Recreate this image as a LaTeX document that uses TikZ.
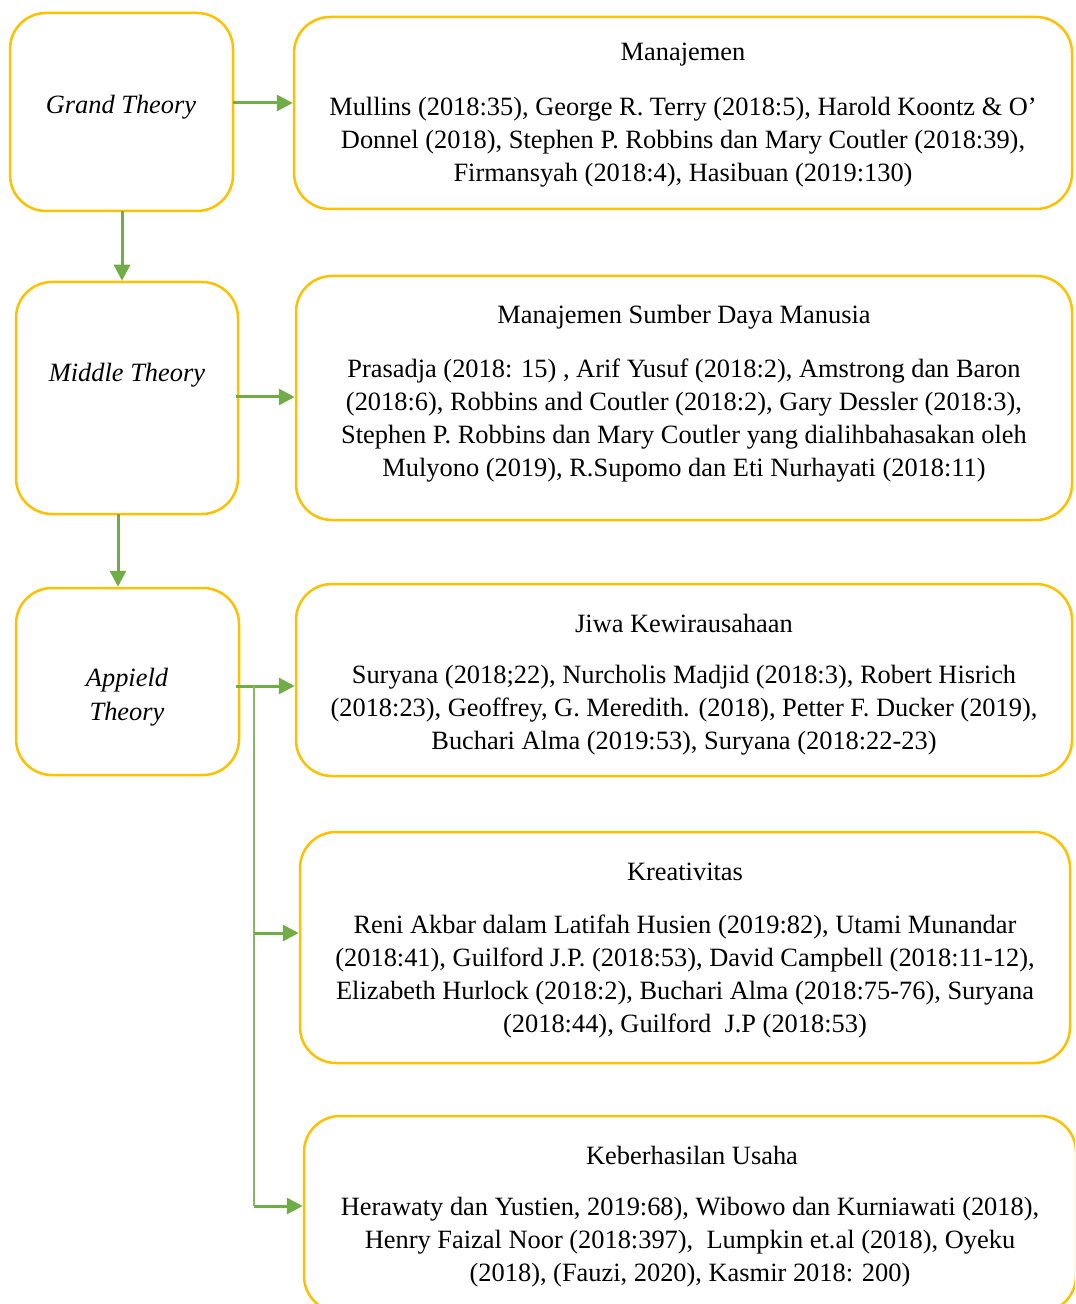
\documentclass[tikz,border=0pt]{standalone}
\usepackage{fontspec}
\setmainfont{Liberation Serif}
\usepackage{tikz}
\usetikzlibrary{arrows.meta,calc}
\definecolor{boxyellow}{RGB}{255,192,0}
\definecolor{arrgreen}{RGB}{112,173,71}
\tikzset{
  box/.style 2 args={draw=boxyellow,line width=1.25pt,rounded corners=18pt,minimum width=#1*0.5pt,minimum height=#2*0.5pt,inner sep=0pt},
  txt/.style={inner sep=0pt,align=center,yshift=-1.5pt,font=\fontsize{13.2}{16.5}\selectfont},
  arr/.style={draw=arrgreen,line width=1.5pt,-{Triangle[length=8pt,width=8pt]}},
  thinline/.style={draw=arrgreen!85,line width=0.8pt}
}

\begin{document}
\begin{tikzpicture}[x=0.5pt,y=-0.5pt]
\clip(0,0)rectangle(1075,1304);
% left column
\node[box={223}{198}](gt)at(121.5,112){};
\node[box={222}{232}](mid)at(127,398){};
\node[box={223}{187}](app)at(127.5,681.5){};
\node[txt,font=\fontsize{13.2}{16.5}\selectfont\itshape](gtT)at(121,104){Grand Theory};
\node[txt,font=\fontsize{13.2}{16.5}\selectfont\itshape](midT)at(127,372){Middle Theory};
\node[txt,font=\fontsize{13.2}{17}\selectfont\itshape](appT)at(127,694){Appield\\Theory};
% right column
\node[box={778}{192}](man)at(683,113){};
\node[box={776}{244}](msdm)at(684,398){};
\node[box={776}{192}](jiwa)at(684,680){};
\node[box={770}{231}](kre)at(685,947.5){};
\node[box={772}{196}](keb)at(690,1214){};
\node[txt](manT)at(683,52){Manajemen};
\node[txt](manP)at(683,139){Mullins (2018:35), George R. Terry (2018:5), Harold Koontz \& O’\\Donnel (2018), Stephen P. Robbins dan Mary Coutler (2018:39),\\Firmansyah (2018:4), Hasibuan (2019:130)};
\node[txt](msdmT)at(684,314){Manajemen Sumber Daya Manusia};
\node[txt](msdmP)at(684,417.5){Prasadja (2018: 15) , Arif Yusuf (2018:2), Amstrong dan Baron\\(2018:6), Robbins and Coutler (2018:2), Gary Dessler (2018:3),\\Stephen P. Robbins dan Mary Coutler yang dialihbahasakan oleh\\Mulyono (2019), R.Supomo dan Eti Nurhayati (2018:11)};
\node[txt](jiwaT)at(684,620){Jiwa Kewirausahaan};
\node[txt](jiwaP)at(684,707){Suryana (2018;22), Nurcholis Madjid (2018:3), Robert Hisrich\\(2018:23), Geoffrey, G. Meredith. (2018), Petter F. Ducker (2019),\\Buchari Alma (2019:53), Suryana (2018:22-23)};
\node[txt](kreT)at(685,869){Kreativitas};
\node[txt](kreP)at(685,973.5){Reni Akbar dalam Latifah Husien (2019:82), Utami Munandar\\(2018:41), Guilford J.P. (2018:53), David Campbell (2018:11-12),\\Elizabeth Hurlock (2018:2), Buchari Alma (2018:75-76), Suryana\\(2018:44), Guilford\ \ J.P (2018:53)};
\node[txt](kebT)at(692,1152){Keberhasilan Usaha};
\node[txt](kebP)at(690,1239){Herawaty dan Yustien, 2019:68), Wibowo dan Kurniawati (2018),\\Henry Faizal Noor (2018:397),\ \ Lumpkin et.al (2018), Oyeku\\(2018), (Fauzi, 2020), Kasmir 2018: 200)};
% connectors
\coordinate(gtR)at(233,103);\coordinate(midR)at(236,397);\coordinate(appR)at(236,686);
\coordinate(gtB)at(122,211);\coordinate(midB)at(118,514);
\coordinate(split)at(254,686);\coordinate(kreL)at(254,933);\coordinate(kebL)at(254,1206);
\draw[arr](gtR)--(gtR-|man.west);
\draw[arr](midR)--(midR-|msdm.west);
\draw[arr](appR)--(appR-|jiwa.west);
\draw[arr](gtB)--(gtB|-mid.north);
\draw[arr](midB)--(midB|-app.north);
\draw[thinline](split)--(kebL);
\draw[arr](kreL)--(kreL-|kre.west);
\draw[arr](kebL)--(kebL-|keb.west);
\end{tikzpicture}
\end{document}
